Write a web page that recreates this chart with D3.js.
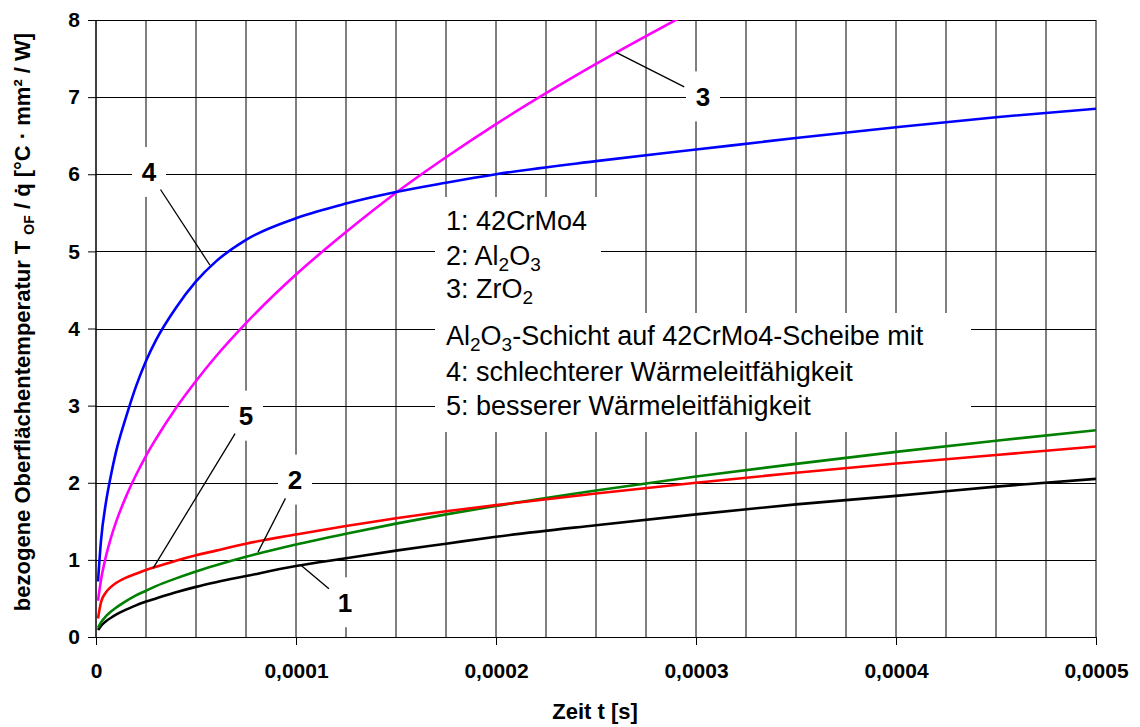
<!DOCTYPE html>
<html>
<head>
<meta charset="utf-8">
<script src="https://cdn.jsdelivr.net/npm/d3@7"></script>
<style>
  html, body { margin: 0; padding: 0; background: #fff; }
  svg { display: block; font-family: "Liberation Sans", Arial, sans-serif; }
</style>
</head>
<body>
<svg id="chart" width="1140" height="727"></svg>
<script>
// Time axis in seconds (denser near t = 0, where the curves rise steeply)
const timeS = [0.000001, 0.0000025, 0.000005, 0.0000075, 0.00001, 0.000015, 0.00002,
  0.000025, 0.00003, 0.00004, 0.00005, 0.00006, 0.000075, 0.0001, 0.000125, 0.00015,
  0.000175, 0.0002, 0.00025, 0.0003, 0.00035, 0.0004, 0.00045, 0.0005];

// Related surface temperature T_OF / q̇ in °C·mm²/W
const s1_42CrMo4 = [0.09, 0.145, 0.205, 0.25, 0.29, 0.355, 0.41, 0.46, 0.50, 0.58, 0.65, 0.71,
  0.79, 0.92, 1.02, 1.12, 1.21, 1.30, 1.45, 1.59, 1.72, 1.83, 1.95, 2.05];
const s2_Al2O3 = [0.12, 0.19, 0.27, 0.33, 0.38, 0.465, 0.54, 0.60, 0.66, 0.76, 0.85, 0.93,
  1.04, 1.20, 1.34, 1.47, 1.59, 1.70, 1.90, 2.08, 2.245, 2.40, 2.545, 2.68];
const s3_ZrO2 = [0.47, 0.74, 1.05, 1.29, 1.49, 1.82, 2.10, 2.35, 2.57, 2.97, 3.32, 3.64,
  4.07, 4.70, 5.25, 5.76, 6.22, 6.65, 7.43, 8.14, null, null, null, null];
const s4_schlechter = [0.72, 1.25, 1.75, 2.10, 2.40, 2.85, 3.25, 3.58, 3.85, 4.27, 4.61, 4.87,
  5.15, 5.43, 5.62, 5.77, 5.89, 6.00, 6.17, 6.32, 6.47, 6.61, 6.74, 6.85];
const s5_besser = [0.24, 0.45, 0.58, 0.65, 0.70, 0.77, 0.82, 0.87, 0.91, 0.99, 1.06, 1.12,
  1.21, 1.33, 1.44, 1.54, 1.63, 1.71, 1.86, 2.00, 2.13, 2.25, 2.36, 2.47];

const seriesNames = ["1", "2", "3", "4", "5"];
const seriesColors = ["#000000", "#008000", "#ff00ff", "#0000ff", "#ff0000"];
const seriesValues = [s1_42CrMo4, s2_Al2O3, s3_ZrO2, s4_schlechter, s5_besser];

// Axis ticks and labels
const yTicks = [0, 1, 2, 3, 4, 5, 6, 7, 8];
const xTicks = [0, 0.0001, 0.0002, 0.0003, 0.0004, 0.0005];
const xTickLabels = ["0", "0,0001", "0,0002", "0,0003", "0,0004", "0,0005"];
const xGridStep = 0.000025;

// Curve number callouts: label anchor (t, value) and the point on the curve it points to
const calloutText = ["1", "2", "3", "4", "5"];
const calloutAt = [[0.0001245, 0.45], [0.0000995, 2.04], [0.0003035, 7.01], [0.0000265, 6.03], [0.000075, 2.87]];
const calloutTarget = [[0.0001025, 0.93], [0.000081, 1.10], [0.00026, 7.58], [0.000057, 4.82], [0.0000285, 0.89]];

// Legend text blocks (segments: [text, isSubscript])
const legendTop = [
  [["1: 42CrMo4", false]],
  [["2: Al", false], ["2", true], ["O", false], ["3", true]],
  [["3: ZrO", false], ["2", true]]
];
const legendBottom = [
  [["Al", false], ["2", true], ["O", false], ["3", true], ["-Schicht auf 42CrMo4-Scheibe mit", false]],
  [["4: schlechterer Wärmeleitfähigkeit", false]],
  [["5: besserer Wärmeleitfähigkeit", false]]
];

const svg = d3.select("#chart");
const x = d3.scaleLinear().domain([0, 0.0005]).range([96, 1096]);
const y = d3.scaleLinear().domain([0, 8]).range([637, 20]);

svg.append("defs").append("clipPath").attr("id", "plotClip")
  .append("rect").attr("x", 96).attr("y", 20).attr("width", 1000).attr("height", 617);

// Grid
const grid = svg.append("g");
const xGrid = d3.range(0, 0.0005 + 1e-12, xGridStep);
grid.selectAll("line.v").data(xGrid).join("line")
  .attr("x1", d => x(d)).attr("x2", d => x(d))
  .attr("y1", y(8)).attr("y2", y(0))
  .attr("stroke", "#000").attr("stroke-width", 1);
grid.selectAll("line.h").data(yTicks).join("line")
  .attr("x1", x(0)).attr("x2", x(0.0005))
  .attr("y1", d => Math.round(y(d)) + 0.5).attr("y2", d => Math.round(y(d)) + 0.5)
  .attr("stroke", "#000").attr("stroke-width", 1);

// White backing for the legend text
const legendG = svg.append("g");
legendG.append("rect").attr("x", 435).attr("y", 197).attr("width", 166).attr("height", 116).attr("fill", "#fff");
legendG.append("rect").attr("x", 435).attr("y", 313).attr("width", 536).attr("height", 119).attr("fill", "#fff");

function writeLines(lines, baselines) {
  lines.forEach((segs, i) => {
    const t = legendG.append("text").attr("x", 446).attr("y", baselines[i])
      .attr("font-size", 27).attr("fill", "#000");
    let shifted = false;
    segs.forEach(([txt, sub]) => {
      const ts = t.append("tspan").text(txt);
      if (sub && !shifted) { ts.attr("dy", 6).attr("font-size", 19); shifted = true; }
      else if (sub) { ts.attr("font-size", 19); }
      else if (shifted) { ts.attr("dy", -6); shifted = false; }
    });
  });
}
writeLines(legendTop, [230, 265, 298]);
writeLines(legendBottom, [345, 381, 415]);

// Axes
const yAxis = d3.axisLeft(y).tickValues(yTicks).tickSize(8).tickPadding(8).tickFormat(d3.format("d"));
const gy = svg.append("g").attr("transform", "translate(96,0)").call(yAxis);
const xAxis = d3.axisBottom(x).tickValues(xTicks).tickSize(8).tickPadding(18)
  .tickFormat((d, i) => xTickLabels[i]);
const gx = svg.append("g").attr("transform", "translate(0,637)").call(xAxis);
[gx, gy].forEach(g => {
  g.select(".domain").remove();
  g.selectAll("line").attr("stroke", "#000");
  g.selectAll("text").attr("font-size", 21).attr("font-weight", "bold")
    .attr("font-family", "Liberation Sans, Arial, sans-serif").attr("fill", "#000");
});
svg.append("line").attr("x1", 96).attr("x2", 96).attr("y1", 20).attr("y2", 637).attr("stroke", "#000");
svg.append("line").attr("x1", 96).attr("x2", 1096).attr("y1", 637.5).attr("y2", 637.5).attr("stroke", "#000");

// Curves
const line = d3.line()
  .defined(d => d[1] != null)
  .x(d => x(d[0])).y(d => y(d[1]))
  .curve(d3.curveMonotoneX);
const curves = svg.append("g").attr("clip-path", "url(#plotClip)");
seriesValues.forEach((vals, i) => {
  curves.append("path")
    .datum(timeS.map((t, k) => [t, vals[k]]))
    .attr("d", line).attr("fill", "none")
    .attr("stroke", seriesColors[i]).attr("stroke-width", 2.6)
    .attr("stroke-linejoin", "round");
});

// Callouts
const callouts = svg.append("g");
calloutText.forEach((txt, i) => {
  const cx = x(calloutAt[i][0]), cy = y(calloutAt[i][1]);
  const tx = x(calloutTarget[i][0]), ty = y(calloutTarget[i][1]);
  callouts.append("rect").attr("x", cx - 17).attr("y", cy - 25).attr("width", 34).attr("height", 50).attr("fill", "#fff");
  const dx = tx - cx, dy = ty - cy, len = Math.hypot(dx, dy), r = 21;
  callouts.append("line")
    .attr("x1", cx + dx / len * r).attr("y1", cy + dy / len * r)
    .attr("x2", tx).attr("y2", ty)
    .attr("stroke", "#000").attr("stroke-width", 1.3);
  callouts.append("text").attr("x", cx).attr("y", cy + 9.5)
    .attr("text-anchor", "middle").attr("font-size", 26).attr("font-weight", "bold")
    .attr("fill", "#000").text(txt);
});

// Axis titles
svg.append("text").attr("x", 595).attr("y", 719).attr("text-anchor", "middle")
  .attr("font-size", 22).attr("font-weight", "bold").text("Zeit t [s]");
const yt = svg.append("text").attr("transform", "translate(30,322) rotate(-90)")
  .attr("text-anchor", "middle").attr("font-size", 22).attr("font-weight", "bold");
yt.append("tspan").text("bezogene Oberflächentemperatur T ");
yt.append("tspan").attr("font-size", 14).attr("dy", 4).text("OF");
yt.append("tspan").attr("dy", -4).text(" / q\u0307  [°C · mm² / W]");
</script>
</body>
</html>
